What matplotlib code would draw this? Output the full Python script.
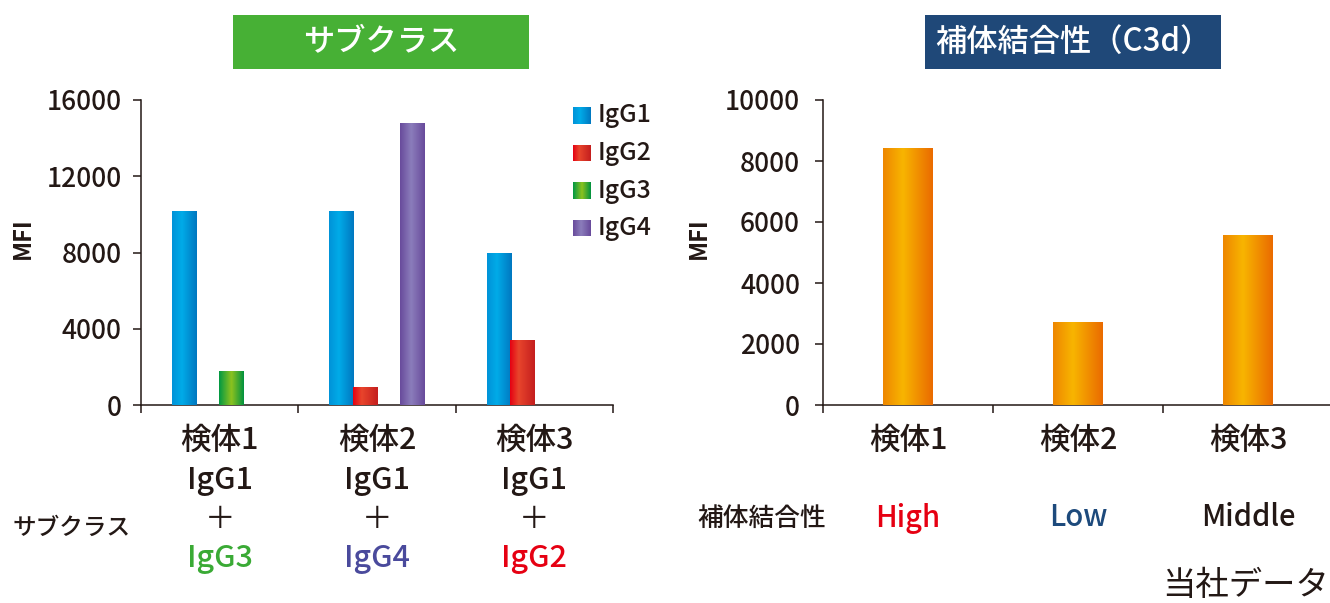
import numpy as np
import matplotlib
matplotlib.use("Agg")
import matplotlib.pyplot as plt
from matplotlib import transforms
from matplotlib.colors import LinearSegmentedColormap
from matplotlib.patches import Rectangle

plt.rcParams['font.family'] = ['Noto Sans CJK JP', 'DejaVu Sans']
plt.rcParams['font.weight'] = 'medium'

# ---------------- data ----------------
samples = ["検体1", "検体2", "検体3"]
subclasses = ["IgG1", "IgG2", "IgG3", "IgG4"]
igg1 = [10200, 10200, 7950]
igg2 = [0, 950, 3420]
igg3 = [1800, 0, 0]
igg4 = [0, 14800, 0]
second_subclass = ["IgG3", "IgG4", "IgG2"]
second_colors = ["#3aaa35", "#4a4a9c", "#e60012"]
c3d = [8430, 2720, 5570]
binding = ["High", "Low", "Middle"]
binding_colors = ["#e60012", "#1d4a7c", "#231815"]
left_ticks = [0, 4000, 8000, 12000, 16000]
right_ticks = [0, 2000, 4000, 6000, 8000, 10000]

TXT = "#231815"
W, H = 1330, 603

grad_stops = {
    "IgG1": [(0, "#0092d8"), (0.4, "#00abe8"), (1, "#0077c0")],
    "IgG2": [(0, "#e50012"), (0.35, "#e8452c"), (1, "#c41e1e")],
    "IgG3": [(0, "#009843"), (0.5, "#8cc21f"), (1, "#00923f")],
    "IgG4": [(0, "#684a9b"), (0.45, "#8b7dbb"), (1, "#684a9b")],
    "C3d": [(0, "#ee8600"), (0.4, "#f8b500"), (1, "#ea6a00")],
}


def grad_img(name):
    cm = LinearSegmentedColormap.from_list(name, grad_stops[name])
    return cm(np.linspace(0, 1, 256))[None, :, :3]


def gradient_bars(ax, bars, name):
    img = grad_img(name)
    for b in bars:
        x, w, h = b.get_x(), b.get_width(), b.get_height()
        if h <= 0:
            continue
        im = ax.imshow(img, extent=(x, x + w, 0, h), aspect='auto',
                       interpolation='bilinear', zorder=3)
        im.set_clip_path(b)


def fx(px):
    return px / W


def fy(py):
    return 1 - py / H


fig = plt.figure(figsize=(W / 100, H / 100), dpi=100)

# ---------------- left chart ----------------
ax1 = fig.add_axes([fx(141), fy(405), (613 - 141) / W, (405 - 100) / H])
x = np.arange(len(samples))
bw = 0.157
step = 0.149
series = [igg1, igg2, igg3, igg4]
for i, (name, vals) in enumerate(zip(subclasses, series)):
    bars = ax1.bar(x + (i - 1.5) * step, vals, bw, color=grad_stops[name][1][1],
                   linewidth=0, zorder=2)
    gradient_bars(ax1, bars, name)
ax1.set_xlim(-0.5, 2.5)
ax1.set_ylim(0, 16000)
ax1.set_yticks(left_ticks)
ax1.set_yticklabels([str(t) for t in left_ticks], fontsize=19, color=TXT)
ax1.set_xticks([-0.5, 0.5, 1.5, 2.5])
ax1.set_xticklabels([])

# ---------------- right chart ----------------
ax2 = fig.add_axes([fx(823), fy(405), 510 / W, (405 - 100) / H])
bars = ax2.bar(x, c3d, 0.29, color="#f8b500", linewidth=0, zorder=2)
gradient_bars(ax2, bars, "C3d")
ax2.set_xlim(-0.5, 2.5)
ax2.set_ylim(0, 10000)
ax2.set_yticks(right_ticks)
ax2.set_yticklabels([str(t) for t in right_ticks], fontsize=19, color=TXT)
ax2.set_xticks([-0.5, 0.5, 1.5, 2.5])
ax2.set_xticklabels([])

for ax, pad in ((ax1, 8.5), (ax2, 11)):
    for s in ("top", "right"):
        ax.spines[s].set_visible(False)
    for s in ("left", "bottom"):
        ax.spines[s].set_color(TXT)
        ax.spines[s].set_linewidth(1.1)
    ax.tick_params(axis='y', direction='out', length=5.5, width=1.1, color=TXT, pad=pad)
    ax.tick_params(axis='x', direction='out', length=6, width=1.1, color=TXT)

# MFI labels
fig.text(fx(23), fy(238), "MFI", rotation=90, fontsize=17, fontweight='bold',
         color=TXT, ha='center', va='center')
fig.text(fx(699), fy(238), "MFI", rotation=90, fontsize=17, fontweight='bold',
         color=TXT, ha='center', va='center')

# legend (manual, gradient swatches)
for i, name in enumerate(subclasses):
    top = 107 + i * 37.5
    sax = fig.add_axes([fx(573), fy(top + 17), 18 / W, 17 / H])
    sax.imshow(grad_img(name), aspect='auto', interpolation='bilinear')
    sax.axis('off')
    fig.text(fx(598), fy(top + 8.5), name, fontsize=18, color=TXT,
             ha='left', va='center')

# category labels, left chart
t1 = transforms.blended_transform_factory(ax1.transData, fig.transFigure)
for i in range(3):
    ax1.text(i, fy(440), samples[i], transform=t1, ha='center', va='center',
             fontsize=22, color=TXT)
    ax1.text(i, fy(480), "IgG1", transform=t1, ha='center', va='center',
             fontsize=22, color=TXT)
    ax1.text(i, fy(520), "＋", transform=t1, ha='center', va='center',
             fontsize=22, color=TXT, fontweight='normal')
    ax1.text(i, fy(559), second_subclass[i], transform=t1, ha='center',
             va='center', fontsize=22, color=second_colors[i])
fig.text(fx(13), fy(528), "サブクラス", fontsize=17, color=TXT, ha='left', va='center')

# category labels, right chart
t2 = transforms.blended_transform_factory(ax2.transData, fig.transFigure)
for i in range(3):
    ax2.text(i, fy(440), samples[i], transform=t2, ha='center', va='center',
             fontsize=22, color=TXT)
    ax2.text(i, fy(518), binding[i], transform=t2, ha='center', va='center',
             fontsize=21, color=binding_colors[i])
fig.text(fx(697), fy(518), "補体結合性", fontsize=18.5, color=TXT, ha='left', va='center')

fig.text(fx(1329), fy(585), "当社データ", fontsize=24, color=TXT, ha='right',
         va='center', fontweight='normal')

# title boxes
fig.patches.append(Rectangle((fx(233), fy(69)), 296 / W, 54 / H, transform=fig.transFigure,
                             facecolor="#47b035", edgecolor='none', zorder=0))
fig.text(fx(381), fy(42), "サブクラス", fontsize=22.5, color='white', ha='center', va='center')
fig.patches.append(Rectangle((fx(925), fy(69)), 296 / W, 54 / H, transform=fig.transFigure,
                             facecolor="#1f4878", edgecolor='none', zorder=0))
fig.text(fx(1073), fy(42), "補体結合性（C3d）", fontsize=22.5, color='white',
         ha='center', va='center')

fig.savefig("out.png", dpi=100)
